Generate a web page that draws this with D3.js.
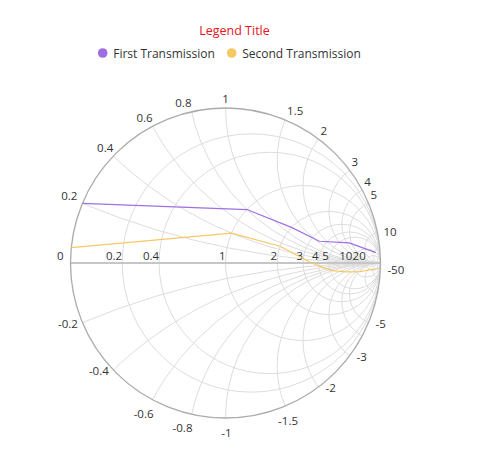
<!DOCTYPE html>
<html><head><meta charset="utf-8">
<script src="https://cdn.jsdelivr.net/npm/d3@7/dist/d3.min.js"></script>
<style>
body{margin:0;background:#fff;}
text{font-family:"Open Sans","Noto Sans",sans-serif;}
</style>
</head><body>
<svg id="chart" width="480" height="469"></svg>
<script>
// ---- data ----
const resistanceTicks = [0.2, 0.4, 1, 2, 3, 4, 5, 10, 20];
const resistanceLabels = ["0", "0.2", "0.4", "1", "2", "3", "4", "5", "10", "20"];
const reactanceTicks = [0.2, 0.4, 0.6, 0.8, 1, 1.5, 2, 3, 4, 5, 10, 20, 50];
const positiveReactanceLabels = ["0.2", "0.4", "0.6", "0.8", "1", "1.5", "2", "3", "4", "5", "10"];
const negativeReactanceLabels = ["-0.2", "-0.4", "-0.6", "-0.8", "-1", "-1.5", "-2", "-3", "-5", "-50"];
const seriesNames = ["First Transmission", "Second Transmission"];
const seriesColors = ["#9e6fe3", "#f5c864"];
const firstResistance = [10, 6, 3.5, 2, 1, 0];
const firstReactance = [25, 4.5, 1.6, 1.2, 0.8, 0.2];
const secondResistance = [20, 12, 7.5, 5.5, 4.5, 3.5, 2, 1, 0];
const secondReactance = [-50, -5.5, -2.2, -1.1, -0.5, 0, 0.5, 0.4, 0.05];
const legendTitle = "Legend Title";

// ---- layout ----
const svg = d3.select("#chart");
const cx = 225.5, cy = 263, R = 155;
const gx = d3.scaleLinear().domain([-1, 1]).range([cx - R, cx + R]);
const gy = d3.scaleLinear().domain([-1, 1]).range([cy + R, cy - R]);
const rad = d3.scaleLinear().domain([0, 1]).range([0, R]);

function gamma(r, x) {
  const den = (r + 1) * (r + 1) + x * x;
  return [(r * r + x * x - 1) / den, (2 * x) / den];
}

svg.append("defs").append("clipPath").attr("id", "unit")
  .append("circle").attr("cx", gx(0)).attr("cy", gy(0)).attr("r", rad(1));

const grid = svg.append("g").attr("clip-path", "url(#unit)")
  .attr("fill", "none").attr("stroke", "#dcdcdc").attr("stroke-width", 1);

// resistance circles
grid.selectAll("circle.res").data(resistanceTicks).join("circle")
  .attr("class", "res")
  .attr("cx", r => gx(r / (r + 1)))
  .attr("cy", gy(0))
  .attr("r", r => rad(1 / (r + 1)));

// reactance arcs
const allReact = reactanceTicks.concat(reactanceTicks.map(v => -v));
grid.selectAll("circle.rea").data(allReact).join("circle")
  .attr("class", "rea")
  .attr("cx", gx(1))
  .attr("cy", x => gy(1 / x))
  .attr("r", x => rad(1 / Math.abs(x)));

// horizontal axis
svg.append("line").attr("x1", gx(-1)).attr("x2", gx(1))
  .attr("y1", gy(0)).attr("y2", gy(0))
  .attr("stroke", "#c6c6c6").attr("stroke-width", 2);

// outer circle
svg.append("circle").attr("cx", gx(0)).attr("cy", gy(0)).attr("r", rad(1))
  .attr("fill", "none").attr("stroke", "#ababab").attr("stroke-width", 1.3);

// resistance labels
const resVals = [0].concat(resistanceTicks);
svg.append("g").selectAll("text").data(resVals).join("text")
  .attr("x", (r, i) => gx((r - 1) / (r + 1)) - (r === 0 ? 7 : 0))
  .attr("y", gy(0) - 3)
  .attr("text-anchor", "end")
  .attr("font-size", 11.5)
  .attr("fill", "#333")
  .text((r, i) => resistanceLabels[i]);

// reactance labels
function reactLabel(x) {
  const g = gamma(0, x);
  const th = Math.atan2(g[1], g[0]) * 180 / Math.PI;
  const px = gx(g[0]), py = gy(g[1]);
  if (th > 0) {
    if (th >= 150) return { x: px - 5, y: py - 3.5, a: "end" };
    if (th > 91) return { x: px, y: py - 4.5, a: "end" };
    if (th >= 89) return { x: px, y: py - 5, a: "middle" };
    if (th > 15) return { x: px + 2, y: py - 4.5, a: "start" };
    return { x: px + 6, y: py + 4, a: "start" };
  } else {
    if (th <= -120) return { x: px - 4.5, y: py + 5.5, a: "end" };
    if (th < -91) return { x: px + 1, y: py + 18, a: "end" };
    if (th <= -89) return { x: px + 1, y: py + 18.5, a: "middle" };
    if (th <= -60) return { x: px - 7, y: py + 18.5, a: "start" };
    return { x: px + 7, y: py + 5, a: "start" };
  }
}
const reactLabelData = positiveReactanceLabels.map(s => +s).concat(negativeReactanceLabels.map(s => +s));
const reactLabelText = positiveReactanceLabels.concat(negativeReactanceLabels);
svg.append("g").selectAll("text").data(reactLabelData).join("text")
  .each(function (x, i) {
    const p = reactLabel(x);
    d3.select(this).attr("x", p.x).attr("y", p.y).attr("text-anchor", p.a);
  })
  .attr("font-size", 11.5)
  .attr("fill", "#333")
  .text((x, i) => reactLabelText[i]);

// series
const series = [
  d3.zip(firstResistance, firstReactance),
  d3.zip(secondResistance, secondReactance)
];
const line = d3.line().x(d => gx(gamma(d[0], d[1])[0])).y(d => gy(gamma(d[0], d[1])[1]));
svg.append("g").selectAll("path").data(series).join("path")
  .attr("d", line)
  .attr("fill", "none")
  .attr("stroke", (d, i) => seriesColors[i])
  .attr("stroke-width", 1.2);

// legend
svg.append("text").attr("x", 234.5).attr("y", 34.5).attr("text-anchor", "middle")
  .attr("font-size", 12.5).attr("fill", "#e8141c").text(legendTitle);
const legendX = [102.7, 231.7];
const lg = svg.append("g").selectAll("g").data(seriesNames).join("g")
  .attr("transform", (d, i) => `translate(${legendX[i]},53)`);
lg.append("circle").attr("r", 4.8).attr("fill", (d, i) => seriesColors[i]);
lg.append("text").attr("x", 10.5).attr("y", 4.5).attr("font-size", 12)
  .attr("fill", "#333").text(d => d);
</script>
</body></html>
